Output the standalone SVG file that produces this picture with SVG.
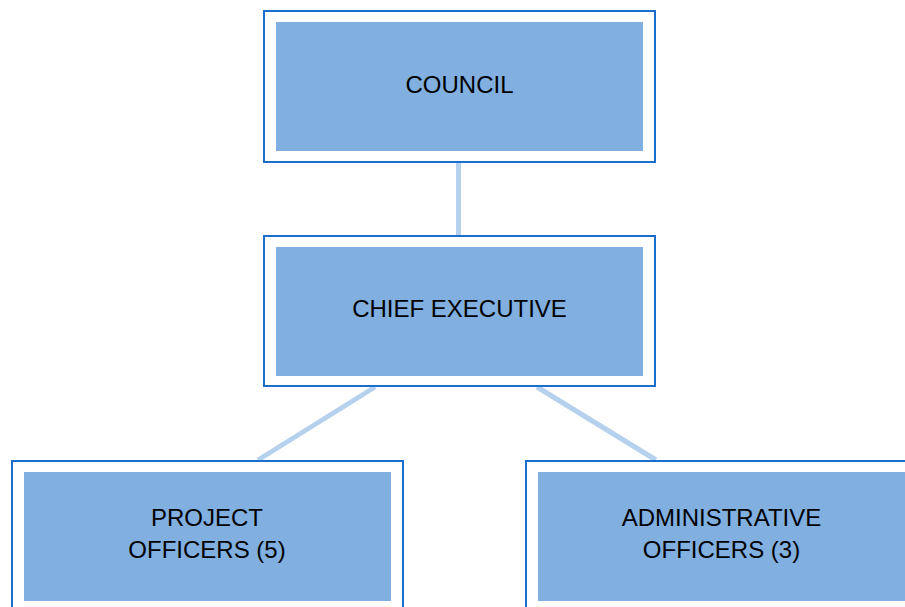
<svg xmlns="http://www.w3.org/2000/svg" width="905" height="607" viewBox="0 0 905 607">
<style>
.outer{fill:#ffffff;stroke:#1a6fcc;stroke-width:2}
.inner{fill:#81b0e0}
.lbl{font-family:"Liberation Sans",Arial,sans-serif;font-size:24px;fill:#000;text-anchor:middle}
.conn{stroke:#b6d1ee;stroke-width:5;fill:none}
</style>
<rect width="905" height="607" fill="#ffffff"/>
<g id="connectors">
<line class="conn" x1="458.5" y1="162" x2="458.5" y2="235"/>
<line class="conn" x1="375" y1="387" x2="258" y2="460"/>
<line class="conn" x1="537" y1="387" x2="656" y2="460"/>
</g>
<g id="council">
<rect class="outer" x="264" y="11" width="391" height="151"/>
<rect class="inner" x="276" y="22" width="367" height="129"/>
<text class="lbl" x="459.5" y="93">COUNCIL</text>
</g>
<g id="chief-executive">
<rect class="outer" x="264" y="236" width="391" height="150"/>
<rect class="inner" x="276" y="247" width="367" height="129"/>
<text class="lbl" x="459.5" y="317">CHIEF EXECUTIVE</text>
</g>
<g id="project-officers">
<rect class="outer" x="12" y="461" width="391" height="160"/>
<rect class="inner" x="24" y="472" width="367" height="129"/>
<text class="lbl" x="207" y="526">PROJECT</text>
<text class="lbl" x="207" y="558">OFFICERS (5)</text>
</g>
<g id="administrative-officers">
<rect class="outer" x="526" y="461" width="392" height="160"/>
<rect class="inner" x="538" y="472" width="368" height="129"/>
<text class="lbl" x="721.5" y="526">ADMINISTRATIVE</text>
<text class="lbl" x="721.5" y="558">OFFICERS (3)</text>
</g>
</svg>
